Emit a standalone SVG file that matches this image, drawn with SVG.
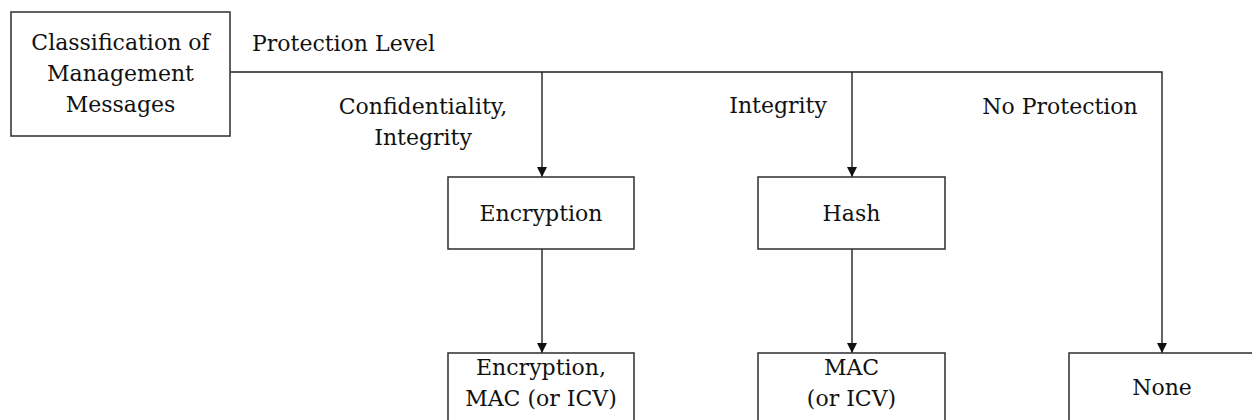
<svg xmlns="http://www.w3.org/2000/svg" width="1252" height="420" viewBox="0 0 1252 420">
<style>
text{font-family:"DejaVu Serif","Liberation Serif",serif;font-size:22px;fill:#111;}
.c{text-anchor:middle;}
.box{fill:#fff;stroke:#3a3a3a;stroke-width:1.6;}
.ln{fill:none;stroke:#222;stroke-width:1.4;}
</style>
<defs>
<marker id="ah" viewBox="0 0 10 10" refX="10" refY="5" markerWidth="10" markerHeight="10" markerUnits="userSpaceOnUse" orient="auto">
<path d="M0,0 L10,5 L0,10 z" fill="#111"/>
</marker>
</defs>
<rect width="1252" height="420" fill="#fff"/>
<g id="connectors">
<path class="ln" d="M230,72 H1162 V353" marker-end="url(#ah)"/>
<path class="ln" d="M542,72 V177" marker-end="url(#ah)"/>
<path class="ln" d="M852,72 V177" marker-end="url(#ah)"/>
<path class="ln" d="M542,249 V353" marker-end="url(#ah)"/>
<path class="ln" d="M852,249 V353" marker-end="url(#ah)"/>
<text x="252" y="51">Protection Level</text>
<text class="c" x="423" y="114">Confidentiality,</text>
<text class="c" x="423" y="145">Integrity</text>
<text class="c" x="778" y="113">Integrity</text>
<text class="c" x="1060" y="114">No Protection</text>
</g>
<g id="root">
<rect class="box" x="11" y="12" width="219" height="124"/>
<text class="c" x="120.5" y="50">Classification of</text>
<text class="c" x="120.5" y="81">Management</text>
<text class="c" x="120.5" y="112">Messages</text>
</g>
<g id="encryption">
<rect class="box" x="448" y="177" width="186" height="72"/>
<text class="c" x="541" y="221">Encryption</text>
</g>
<g id="hash">
<rect class="box" x="758" y="177" width="187" height="72"/>
<text class="c" x="851.5" y="221">Hash</text>
</g>
<g id="enc-mac">
<rect class="box" x="448" y="353" width="186" height="80"/>
<text class="c" x="541" y="375">Encryption,</text>
<text class="c" x="541" y="406">MAC (or ICV)</text>
</g>
<g id="mac">
<rect class="box" x="758" y="353" width="187" height="80"/>
<text class="c" x="851.5" y="375">MAC</text>
<text class="c" x="851.5" y="406">(or ICV)</text>
</g>
<g id="none">
<rect class="box" x="1069" y="353" width="190" height="80"/>
<text class="c" x="1162" y="395">None</text>
</g>
</svg>
